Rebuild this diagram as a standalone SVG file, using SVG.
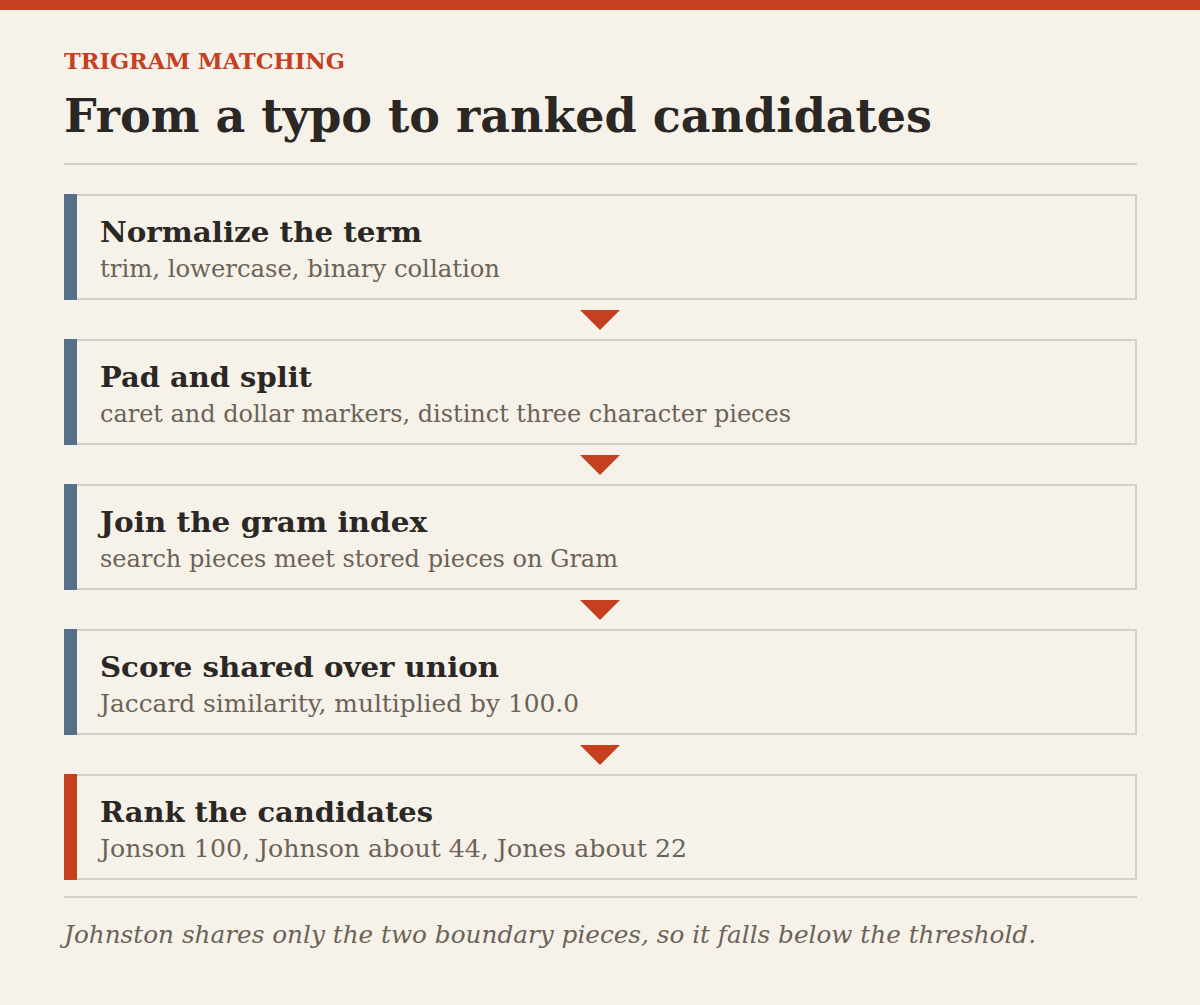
<svg xmlns="http://www.w3.org/2000/svg" width="1200" height="1005" viewBox="0 0 1200 1005">
<defs>
<style>
.bg{fill:#f7f2e9}
.rule{stroke:#d6cfc3;stroke-width:2}
.box{fill:#f7f2e9;stroke:#d6cfc3;stroke-width:2}
.bar{fill:#56708a}
.bar-hot{fill:#c4401e}
.kicker{font-family:"DejaVu Serif","Liberation Serif",serif;font-weight:bold;font-size:22px;fill:#c4401e}
.title{font-family:"DejaVu Serif","Liberation Serif",serif;font-weight:bold;font-size:46px;fill:#2b2724}
.h{font-family:"DejaVu Serif","Liberation Serif",serif;font-weight:bold;font-size:28px;fill:#2b2724}
.s{font-family:"DejaVu Serif","Liberation Serif",serif;font-size:24px;fill:#6b6358}
.note{font-family:"DejaVu Serif","Liberation Serif",serif;font-style:italic;font-size:24px;fill:#6b6358}
.arr{fill:#c4401e}
</style>
</defs>
<rect class="bg" x="0" y="0" width="1200" height="1005"/>
<rect x="0" y="0" width="1200" height="10" fill="#c4401e"/>
<text class="kicker" x="64" y="69" textLength="281" lengthAdjust="spacingAndGlyphs">TRIGRAM MATCHING</text>
<text class="title" x="64" y="132" textLength="868" lengthAdjust="spacingAndGlyphs">From a typo to ranked candidates</text>
<line class="rule" x1="64" y1="164" x2="1137" y2="164"/>
<g id="connectors">
<polygon class="arr" points="580,310 620,310 600,330"/>
<polygon class="arr" points="580,455 620,455 600,475"/>
<polygon class="arr" points="580,600 620,600 600,620"/>
<polygon class="arr" points="580,745 620,745 600,765"/>
</g>
<g id="node-normalize">
<rect class="box" x="65" y="195" width="1071" height="104"/>
<rect class="bar" x="64" y="194" width="13" height="106"/>
<text class="h" x="100" y="242" textLength="322" lengthAdjust="spacingAndGlyphs">Normalize the term</text>
<text class="s" x="100" y="277" textLength="400" lengthAdjust="spacingAndGlyphs">trim, lowercase, binary collation</text>
</g>
<g id="node-split">
<rect class="box" x="65" y="340" width="1071" height="104"/>
<rect class="bar" x="64" y="339" width="13" height="106"/>
<text class="h" x="100" y="387" textLength="212" lengthAdjust="spacingAndGlyphs">Pad and split</text>
<text class="s" x="100" y="422" textLength="691" lengthAdjust="spacingAndGlyphs">caret and dollar markers, distinct three character pieces</text>
</g>
<g id="node-join">
<rect class="box" x="65" y="485" width="1071" height="104"/>
<rect class="bar" x="64" y="484" width="13" height="106"/>
<text class="h" x="100" y="532" textLength="327" lengthAdjust="spacingAndGlyphs">Join the gram index</text>
<text class="s" x="100" y="567" textLength="518" lengthAdjust="spacingAndGlyphs">search pieces meet stored pieces on Gram</text>
</g>
<g id="node-score">
<rect class="box" x="65" y="630" width="1071" height="104"/>
<rect class="bar" x="64" y="629" width="13" height="106"/>
<text class="h" x="100" y="677" textLength="399" lengthAdjust="spacingAndGlyphs">Score shared over union</text>
<text class="s" x="100" y="712" textLength="479" lengthAdjust="spacingAndGlyphs">Jaccard similarity, multiplied by 100.0</text>
</g>
<g id="node-rank">
<rect class="box" x="65" y="775" width="1071" height="104"/>
<rect class="bar-hot" x="64" y="774" width="13" height="106"/>
<text class="h" x="100" y="822" textLength="333" lengthAdjust="spacingAndGlyphs">Rank the candidates</text>
<text class="s" x="100" y="857" textLength="587" lengthAdjust="spacingAndGlyphs">Jonson 100, Johnson about 44, Jones about 22</text>
</g>
<line class="rule" x1="64" y1="897" x2="1137" y2="897"/>
<text class="note" x="64" y="943" textLength="972" lengthAdjust="spacingAndGlyphs">Johnston shares only the two boundary pieces, so it falls below the threshold.</text>
</svg>
